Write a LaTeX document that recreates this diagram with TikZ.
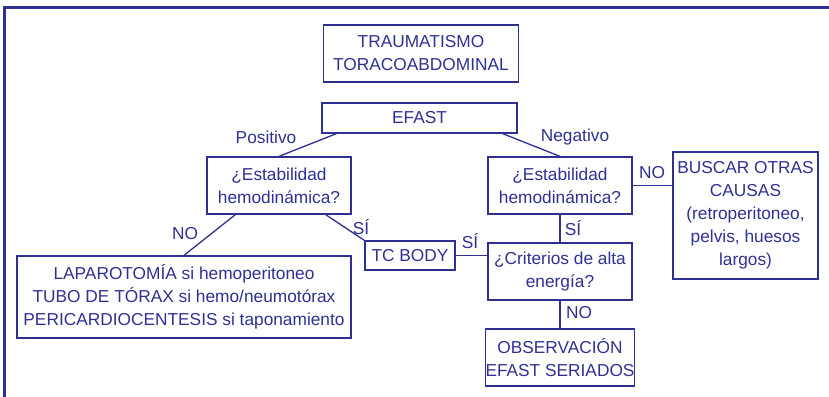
\documentclass[tikz,border=0pt]{standalone}
\usepackage{fontspec}
\setmainfont{Liberation Sans}
\usepackage{tikz}
\definecolor{navy}{RGB}{46,49,146}

\begin{document}
\begin{tikzpicture}[x=1pt, y=-1pt,
    every node/.style={text=navy, font=\fontsize{17.3}{23}\selectfont},
    box/.style={draw=navy, line width=1.3pt, align=center, inner sep=0pt},
    lbl/.style={inner sep=0pt}]
  \useasboundingbox (0,0) rectangle (829,396);
  % frame
  \draw[navy, line width=3pt] (4,397) -- (4,8) -- (830,8);
  % boxes
  \node[box, minimum width=195, minimum height=57] (trauma) at (421,53.5) {TRAUMATISMO\\TORACOABDOMINAL};
  \node[box, minimum width=195, minimum height=30] (efast) at (419.5,118) {EFAST};
  \node[box, minimum width=144, minimum height=57] (estabL) at (279,185.5) {¿Estabilidad\\hemodinámica?};
  \node[box, minimum width=144, minimum height=57] (estabR) at (560,185.5) {¿Estabilidad\\hemodinámica?};
  \node[box, minimum width=145, minimum height=127] (buscar) at (745.5,215.5) {BUSCAR OTRAS\\CAUSAS\\(retroperitoneo,\\pelvis, huesos\\largos)};
  \node[box, minimum width=90, minimum height=29] (tc) at (410,255.5) {TC BODY};
  \node[box, minimum width=144, minimum height=57] (crit) at (560,271.5) {¿Criterios de alta\\energía?};
  \node[box, minimum width=334, minimum height=82] (lap) at (184,297) {LAPAROTOMÍA si hemoperitoneo\\TUBO DE TÓRAX si hemo/neumotórax\\PERICARDIOCENTESIS si taponamiento};
  \node[box, minimum width=144, minimum height=57] (obs) at (560,357.5) {OBSERVACIÓN\\EFAST SERIADOS};
  % connectors
  \draw[navy, line width=1.3pt] ([xshift=15pt]efast.south west) -- (estabL.north);
  \draw[navy, line width=1.3pt] ([xshift=-15pt]efast.south east) -- (estabR.north);
  \draw[navy, line width=1.3pt] ([xshift=29pt]estabL.south west) -- (lap.north);
  \draw[navy, line width=1.3pt] ([xshift=-26pt]estabL.south east) -- (tc.north west);
  \draw[navy, line width=1.3pt] (tc.east) -- (tc.east -| crit.west);
  \draw[navy, line width=1.3pt] (estabR.south) -- (crit.north);
  \draw[navy, line width=1.3pt] (estabR.east) -- (estabR.east -| buscar.west);
  \draw[navy, line width=1.3pt] (crit.south) -- (obs.north);
  % labels
  \node[lbl] (pos) at (266,137) {Positivo};
  \node[lbl] (neg) at (575,137) {Negativo};
  \node[lbl] (noL) at (185,234) {NO};
  \node[lbl] (siL) at (361,227) {SÍ};
  \node[lbl] (siM) at (470,241) {SÍ};
  \node[lbl] (siR) at (573,228) {SÍ};
  \node[lbl] (noR) at (652,173) {NO};
  \node[lbl] (noB) at (579,313) {NO};
\end{tikzpicture}
\end{document}
